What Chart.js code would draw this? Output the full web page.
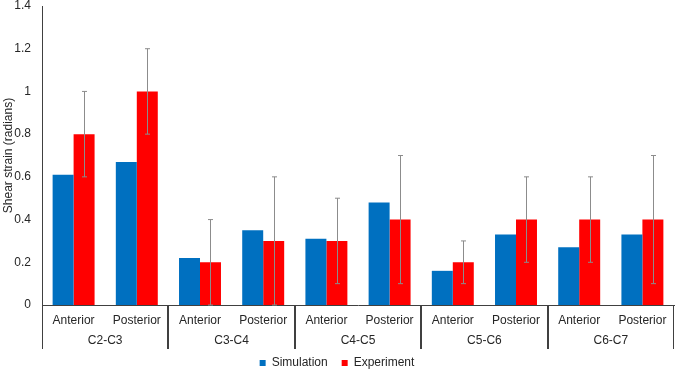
<!DOCTYPE html>
<html>
<head>
<meta charset="utf-8">
<script src="https://cdn.jsdelivr.net/npm/chart.js@4"></script>
<style>
  html, body { margin: 0; padding: 0; background: #fff; }
  #wrap { width: 676px; height: 369px; }
</style>
</head>
<body>
<div id="wrap"><canvas id="shear-chart"></canvas></div>
<script>
// Data
const sides = ['Anterior', 'Posterior', 'Anterior', 'Posterior', 'Anterior', 'Posterior', 'Anterior', 'Posterior', 'Anterior', 'Posterior'];
const levels = ['C2-C3', 'C3-C4', 'C4-C5', 'C5-C6', 'C6-C7'];
const simulation = [0.61, 0.67, 0.22, 0.35, 0.31, 0.48, 0.16, 0.33, 0.27, 0.33];
const experiment = [0.8, 1.0, 0.2, 0.3, 0.3, 0.4, 0.2, 0.4, 0.4, 0.4];
const experimentErr = [0.2, 0.2, 0.2, 0.3, 0.2, 0.3, 0.1, 0.2, 0.2, 0.3];
const yTicks = [0, 0.2, 0.4, 0.6, 0.8, 1, 1.2, 1.4];

const FONT = 'Liberation Sans, Arial, sans-serif';
const AXIS_COLOR = '#404040';

// error bars for the Experiment series
const errorBars = {
    id: 'errorBars',
    afterDatasetsDraw: function(chart) {
        const ctx = chart.ctx;
        const y = chart.scales.y;
        const meta = chart.getDatasetMeta(1);
        ctx.save();
        ctx.strokeStyle = '#8c8c8c';
        ctx.lineWidth = 1;
        meta.data.forEach(function(bar, i) {
            const x = Math.round(bar.x) + 0.5;
            const top = y.getPixelForValue(experiment[i] + experimentErr[i]);
            const bot = y.getPixelForValue(experiment[i] - experimentErr[i]);
            ctx.beginPath();
            ctx.moveTo(x, top);
            ctx.lineTo(x, bot);
            ctx.moveTo(x - 2.5, top);
            ctx.lineTo(x + 2.5, top);
            ctx.moveTo(x - 2.5, bot);
            ctx.lineTo(x + 2.5, bot);
            ctx.stroke();
        });
        ctx.restore();
    }
};

// second row of the category axis: level names and separators
const groupAxis = {
    id: 'groupAxis',
    afterDraw: function(chart) {
        const ctx = chart.ctx;
        const x = chart.scales.x;
        const bottom = chart.chartArea.bottom;
        ctx.save();
        ctx.strokeStyle = AXIS_COLOR;
        ctx.lineWidth = 1;
        ctx.fillStyle = '#262626';
        ctx.font = '12px ' + FONT;
        ctx.textAlign = 'center';
        ctx.textBaseline = 'middle';
        levels.forEach(function(name, g) {
            const a = x.getPixelForValue(2 * g);
            const b = x.getPixelForValue(2 * g + 1);
            const half = (b - a) / 2;
            const left = a - half;
            const right = b + half;
            ctx.beginPath();
            ctx.moveTo(Math.round(left) + 0.5, bottom);
            ctx.lineTo(Math.round(left) + 0.5, bottom + 44);
            ctx.moveTo(Math.round(right) - 0.5, bottom);
            ctx.lineTo(Math.round(right) - 0.5, bottom + 44);
            ctx.stroke();
            ctx.fillText(name, (a + b) / 2, bottom + 36);
        });
        ctx.restore();
    }
};

new Chart(document.getElementById('shear-chart'), {
    type: 'bar',
    data: {
        labels: sides,
        datasets: [{
            label: 'Simulation',
            data: simulation,
            backgroundColor: '#0070C0',
            borderWidth: 0
        }, {
            label: 'Experiment',
            data: experiment,
            backgroundColor: '#FF0000',
            borderWidth: 0
        }]
    },
    options: {
        responsive: true,
        maintainAspectRatio: false,
        animation: false,
        layout: { padding: { left: 0, right: 2, top: 6, bottom: 0 } },
        datasets: {
            bar: { categoryPercentage: 0.664, barPercentage: 1 }
        },
        scales: {
            x: {
                grid: { display: false, drawTicks: false },
                border: { display: true, color: AXIS_COLOR, width: 1 },
                ticks: { color: '#262626', font: { family: FONT, size: 12 }, padding: 8, maxRotation: 0, autoSkip: false },
                afterFit: function(scale) { scale.height = 38; }
            },
            y: {
                min: 0,
                max: 1.4,
                afterBuildTicks: function(scale) {
                    scale.ticks = yTicks.map(function(v) { return { value: v }; });
                },
                grid: { display: false, drawTicks: false },
                border: { display: true, color: AXIS_COLOR, width: 1 },
                ticks: {
                    color: '#262626',
                    font: { family: FONT, size: 12 },
                    padding: 11,
                    callback: function(v) { return String(Math.round(v * 10) / 10); }
                },
                title: {
                    display: true,
                    text: 'Shear strain (radians)',
                    color: '#262626',
                    font: { family: FONT, size: 12 },
                    padding: { top: 1, bottom: 0 }
                },
                afterFit: function(scale) {
                    scale.width = 42;
                    scale.paddingTop = 0;
                }
            }
        },
        plugins: {
            legend: {
                position: 'bottom',
                maxHeight: 26,
                labels: {
                    boxWidth: 6,
                    boxHeight: 6,
                    padding: 14,
                    color: '#262626',
                    font: { family: FONT, size: 12 }
                }
            },
            tooltip: { enabled: false }
        }
    },
    plugins: [errorBars, groupAxis]
});
</script>
</body>
</html>
